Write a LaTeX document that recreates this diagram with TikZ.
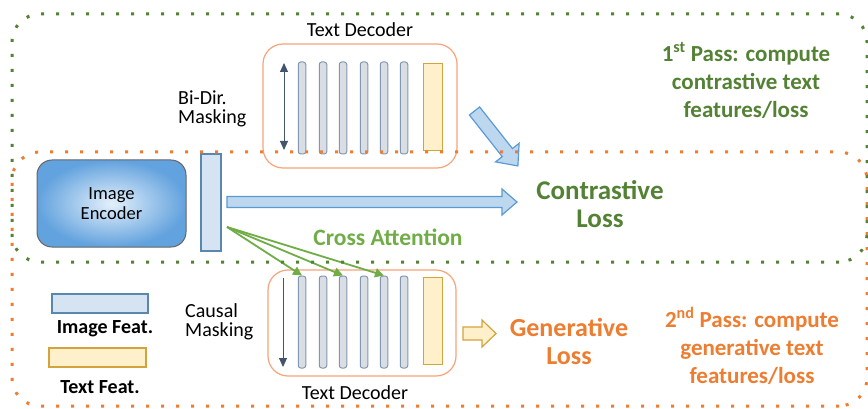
\documentclass[tikz,border=0pt]{standalone}
\usepackage{fontspec}
\setmainfont{Carlito}
\usetikzlibrary{arrows.meta,calc}
\definecolor{dkgreen}{HTML}{548235}
\definecolor{ltgreen}{HTML}{70AD47}
\definecolor{orng}{HTML}{ED7D31}
\definecolor{decbox}{HTML}{F6A47A}
\definecolor{barfill}{HTML}{D9DEE4}
\definecolor{barline}{HTML}{8497B0}
\definecolor{yfill}{HTML}{FFF0CC}
\definecolor{yline}{HTML}{D4A43C}
\definecolor{bfill}{HTML}{BDD7EE}
\definecolor{bline}{HTML}{5B9BD5}
\definecolor{encout}{HTML}{62A2DE}
\definecolor{encin}{HTML}{E4F0FB}
\definecolor{ifill}{HTML}{D6E3F2}
\definecolor{iline}{HTML}{5A87AD}
\definecolor{slate}{HTML}{44546A}
\tikzset{
  tbar/.style={draw=barline,fill=barfill,line width=1pt,rounded corners=2.5pt,minimum width=7.5pt,minimum height=92pt,inner sep=0pt},
  ybar/.style={draw=yline,fill=yfill,line width=1pt,minimum width=19pt,minimum height=87pt,inner sep=0pt},
  decoder/.style={draw=decbox,line width=1.2pt,rounded corners=20pt,inner sep=0pt},
  lbl/.style={font=\fontsize{20}{19}\selectfont,inner sep=0pt},
  blockarrow/.style={draw=bline,fill=bfill,line width=1.2pt,line join=miter},
  gdot/.style={dkgreen,line width=3pt,dash pattern=on 3pt off 12pt,rounded corners=28pt},
  odot/.style={orng,line width=3pt,dash pattern=on 3pt off 12pt,rounded corners=28pt},
  catt/.style={ltgreen,line width=1.8pt,-{Triangle[length=9pt,width=9pt]}},
  dirarrow/.style={slate,line width=1pt},
}
\begin{document}
\begin{tikzpicture}[x=1pt,y=-1pt]
\useasboundingbox (0,0) rectangle (868,409);
\fill[white] (0,0) rectangle (868,409);

% top text decoder
\node[lbl] (ttitle) at (360,30) {Text Decoder};
\node[decoder,minimum width=194pt,minimum height=124pt] (tdec) at (360,106) {};
\foreach \i/\x in {1/302,2/323,3/343,4/364,5/384,6/404}
  \node[tbar] (t\i) at (\x,108) {};
\node[ybar] (ty) at (432.5,107.5) {};
\coordinate (tda) at (284,63);
\coordinate (tdb) at (284,150);
\draw[dirarrow,{Triangle[length=9pt,width=8pt]}-{Triangle[length=9pt,width=8pt]}] (tda) -- (tdb);
\node[lbl,align=left,anchor=west] (bidir) at (178,109) {Bi-Dir.\\Masking};

% bottom text decoder
\node[decoder,minimum width=188pt,minimum height=106pt] (bdec) at (362,323) {};
\foreach \i/\x in {1/302,2/323,3/343,4/364,5/384,6/404}
  \node[tbar] (b\i) at (\x,322) {};
\node[ybar] (by) at (432.5,320.5) {};
\coordinate (bda) at (283,278);
\coordinate (bdb) at (283,367);
\draw[dirarrow,-{Triangle[length=9pt,width=8pt]}] (bda) -- (bdb);
\node[lbl,align=left,anchor=west] (causal) at (185,322) {Causal\\Masking};
\node[lbl] (btitle) at (355,393) {Text Decoder};

% image encoder
\node[draw=gray!80!black,line width=1pt,rounded corners=15pt,minimum width=149pt,minimum height=87pt,
  inner color=encin,outer color=encout,align=center,font=\fontsize{18.5}{20}\selectfont] (enc) at (111.5,203.5) {Image\\Encoder};
\node[draw=iline,fill=ifill,line width=1.2pt,minimum width=20pt,minimum height=97pt,inner sep=0pt] (ifeat) at (211,202.5) {};

% contrastive arrow
\coordinate (ha) at (227,202);
\coordinate (hb) at (517,202);
\draw[blockarrow] ($(ha)+(0,-5.5)$) -- ++(275,0) -- ++(0,-7.5) -- (hb) -- ++(-15,13) -- ++(0,-7.5) -- ($(ha)+(0,5.5)$) -- cycle;

% diagonal arrow
\begin{scope}[shift={(474.5,111)},rotate=-51.7]
\draw[blockarrow] (0,-6.5) -- (53,-6.5) -- (53,-15) -- (70,0) -- (53,15) -- (53,6.5) -- (0,6.5) -- cycle;
\end{scope}

% generative arrow
\draw[draw=yline,fill=yfill,line width=1.2pt] (463,327) -- (482,327) -- (482,320) -- (496,333.5) -- (482,347) -- (482,340) -- (463,340) -- cycle;

% labels
\node[align=center,font=\bfseries\fontsize{27}{28}\selectfont,text=dkgreen] (closs) at (600,204) {Contrastive\\Loss};
\node[font=\bfseries\fontsize{23.5}{24}\selectfont,text=ltgreen] (catext) at (388,237) {Cross Attention};
\node[align=center,font=\bfseries\fontsize{26}{28}\selectfont,text=orng] (gloss) at (569,341) {Generative\\Loss};
\node[align=center,font=\bfseries\fontsize{23}{28}\selectfont,text=dkgreen] (pass1) at (746,80) {1\textsuperscript{st} Pass: compute\\contrastive text\\features/loss};
\node[align=center,font=\bfseries\fontsize{23}{28}\selectfont,text=orng] (pass2) at (752,346) {2\textsuperscript{nd} Pass: compute\\generative text\\features/loss};

% cross attention arrows
\coordinate (ca) at (227,227);
\draw[catt] (ca) -- (b1.north);
\draw[catt] (ca) -- (b3.north);
\draw[catt] (ca) -- (b5.north);

% legend
\node[draw=iline,fill=ifill,line width=1.2pt,minimum width=96pt,minimum height=19pt,inner sep=0pt] (legimg) at (100,303.5) {};
\node[font=\bfseries\fontsize{20}{22}\selectfont] (legimgt) at (105,329) {Image Feat.};
\node[draw=yline,fill=yfill,line width=1.2pt,minimum width=97pt,minimum height=19pt,inner sep=0pt] (legtxt) at (97.5,357.5) {};
\node[font=\bfseries\fontsize{20}{22}\selectfont] (legtxtt) at (100,387) {Text Feat.};

% dotted pass regions
\draw[gdot] (867,262) -- (12,262) -- (12,14) -- (867,14) -- cycle;
\draw[odot] (867,406) -- (12,406) -- (12,152) -- (867,152) -- cycle;
\end{tikzpicture}
\end{document}
